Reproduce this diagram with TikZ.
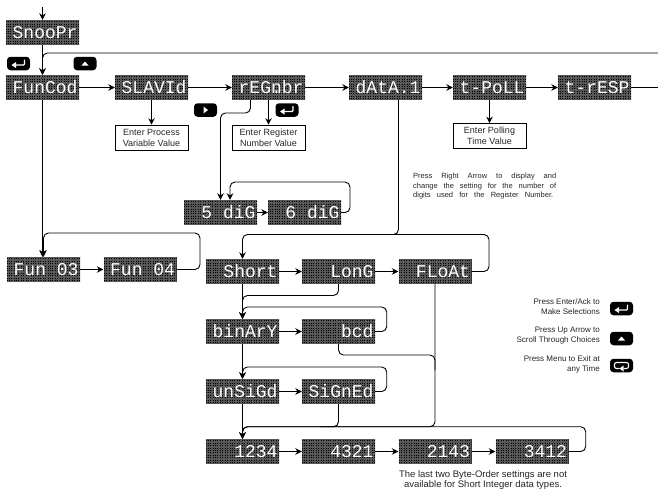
\documentclass[tikz,border=0pt]{standalone}
\usepackage{fontspec}
\setmainfont{Liberation Sans}
\newfontfamily\dispfont{Liberation Mono}
\usetikzlibrary{arrows.meta,calc}
\tikzset{
  x=1pt,y=-1pt,
  disp/.style={fill=black,draw=none,text=white,text width=70pt,align=right,inner xsep=1.5pt,inner ysep=0pt,
    minimum height=25pt,text height=12.5pt,text depth=0pt,font=\dispfont\fontsize{18}{18}\selectfont,
    path picture={\draw[black!66,line width=.28pt,step=1.7pt] (path picture bounding box.south west) grid (path picture bounding box.north east);}},
  conn/.style={draw=black,line width=.9pt,rounded corners=5pt,-{Stealth[length=6.5pt,width=6.5pt]}},
  plain/.style={draw=black,line width=.9pt,rounded corners=5pt},
  infobox/.style={draw=black,line width=.6pt,fill=white,minimum width=73pt,minimum height=25pt,inner sep=0pt,align=center,font=\fontsize{9}{11}\selectfont,text=black!85},
  keypad/.style={fill=black,rounded corners=3.5pt,minimum width=23pt,minimum height=13.5pt,inner sep=0pt},
  glyph/.style={draw=white,line width=1.1pt,fill=none},
  tri/.style={fill=white,draw=none},
  legend/.style={align=right,anchor=east,inner sep=0pt,font=\fontsize{8}{10}\selectfont,text=black!85},
  note/.style={align=center,inner sep=0pt,font=\fontsize{9.5}{10}\selectfont,text=black!85},
  rnote/.style={align=left,anchor=north west,inner sep=0pt,font=\fontsize{7.5}{9.9}\selectfont,text=black!85},
}
\newcommand{\dt}{\rlap{.}}
\newcommand{\gap}{\phantom{0}}
\newcommand{\entglyph}[1]{\draw[glyph,rounded corners=1pt,shift={(#1)}] (6,-4) -- (6,1.5) -- (-3,1.5); \fill[tri,shift={(#1)}] (-7,1.5) -- (-2.5,-1.5) -- (-2.5,4.5) -- cycle;}
\begin{document}
\begin{tikzpicture}
\useasboundingbox (0,0) rectangle (658,491);
\fill[white] (0,0) rectangle (658,491);
\node[disp] (snoop) at (42.5,32.5) {SnooPr};
\node[disp] (fun) at (42.5,87.5) {FunCod};
\node[disp] (slav) at (151.5,87.5) {SLAV\dt Id};
\node[disp] (reg) at (268.5,87.5) {rEG\dt nbr};
\node[disp] (data) at (385.5,87.5) {dAtA\dt\gap 1};
\node[disp] (poll) at (489.5,87.5) {t-PoLL};
\node[disp] (resp) at (594.5,87.5) {t-rESP};
\node[disp] (dfive) at (220.5,212.5) {5\gap diG};
\node[disp] (dsix) at (304.5,212.5) {6\gap diG};
\node[disp] (fthree) at (43.5,269.5) {Fun\gap 03};
\node[disp] (ffour) at (140,269.5) {Fun\gap 04};
\node[disp] (short) at (242.5,271.5) {Short};
\node[disp] (long) at (338.5,271.5) {LonG};
\node[disp] (float) at (435,271.5) {FLoAt};
\node[disp] (bin) at (242.5,331.5) {binArY};
\node[disp] (bcd) at (338.5,331.5) {bcd};
\node[disp] (uns) at (242.5,391.5) {unSiGd};
\node[disp] (sgn) at (338.5,391.5) {SiGnEd};
\node[disp] (oa) at (242.5,451.5) {1234};
\node[disp] (ob) at (338.5,451.5) {4321};
\node[disp] (oc) at (435,451.5) {2143};
\node[disp] (od) at (532,451.5) {3412};
\node[infobox] (bslav) at (151.5,137.5) {Enter Process\\Variable Value};
\node[infobox] (breg) at (268.5,137.5) {Enter Register\\Number Value};
\node[infobox] (bpoll) at (489.5,136) {Enter Polling\\Time Value};
\coordinate (top) at (42.5,7);
\coordinate (edgeA) at (658,53);
\coordinate (edgeB) at (658,87.5);
\draw[conn] (top) -- (snoop.north);
\draw[conn] (snoop.south) -- (fun.north);
\draw[conn] (edgeA) -- (fun.north |- edgeA) -- (fun.north);
\draw[conn] (fun) -- (slav);
\draw[conn] (slav) -- (reg);
\draw[conn] (reg) -- (data);
\draw[conn] (data) -- (poll);
\draw[conn] (poll) -- (resp);
\draw[plain] (resp.east) -- (edgeB);
\draw[conn] (slav.south) -- (bslav.north);
\draw[conn] (reg.south) -- (breg.north);
\draw[conn] (poll.south) -- (bpoll.north);
\draw[conn] (fun.south) -- (fthree.north -| fun.south);
\draw[conn] (fthree) -- (ffour);
\draw[conn] (ffour.east) -- (200,269.5) -- (200,233) -- (43.5,233) -- (fthree.north);
\draw[conn] ([xshift=-18pt]reg.south) -- (250.5,113) -- (220.5,113) -- (dfive.north);
\draw[conn] (dfive) -- (dsix);
\draw[conn] (dsix.east) -- (350,212.5) -- (350,182) -- (230,182) -- ([xshift=9.5pt]dfive.north);
\draw[plain] ([xshift=13pt]data.south) -- (398.5,234.5) -- (380,234.5);
\draw[conn] (float.east) -- (489,271.5) -- (489,234.5) -- (242.5,234.5) -- (short.north);
\draw[conn] (short) -- (long);
\draw[conn] (long) -- (float);
\draw[conn] (short.south) -- (bin.north);
\draw[conn] (long.south) -- (338.5,295.5) -- (242.5,295.5) -- (bin.north);
\draw[conn] (bin) -- (bcd);
\draw[conn] (bcd.east) -- (386.7,331.5) -- (386.7,307) -- (242.5,307) -- (bin.north);
\draw[conn] (bin.south) -- (uns.north);
\draw[conn] (uns) -- (sgn);
\draw[conn] (sgn.east) -- (386.7,391.5) -- (386.7,367) -- (242.5,367) -- (uns.north);
\draw[conn] (uns.south) -- (oa.north);
\draw[plain] (bcd.south) -- (338.5,355) -- (435,355) -- (435,370);
\draw[conn] (float.south) -- (435,426.7) -- (242.5,426.7) -- (oa.north);
\draw[plain] (sgn.south) -- (338.5,426.7) -- (320,426.7);
\draw[conn] (oa) -- (ob);
\draw[conn] (ob) -- (oc);
\draw[conn] (oc) -- (od);
\draw[conn] (od.east) -- (585.7,451.5) -- (585.7,426.7) -- (242.5,426.7) -- (oa.north);
\node[keypad] (kenta) at (18.5,63.5) {};
\entglyph{kenta.center}
\node[keypad] (kupa) at (85,63.5) {};
\fill[tri,shift={(kupa.center)}] (-3.5,2) -- (3.5,2) -- (0,-2) -- cycle;
\node[keypad] (kright) at (205.5,110) {};
\fill[tri,shift={(kright.center)}] (-2,-3.5) -- (-2,3.5) -- (2.5,0) -- cycle;
\node[keypad] (kentb) at (287,110) {};
\entglyph{kentb.center}
\node[keypad] (kentc) at (621.5,308.5) {};
\entglyph{kentc.center}
\node[keypad] (kupc) at (621.5,338.5) {};
\fill[tri,shift={(kupc.center)}] (-3.5,2) -- (3.5,2) -- (0,-2) -- cycle;
\node[keypad] (kmenu) at (621.5,365.5) {};
\draw[glyph,rounded corners=2pt,shift={(kmenu.center)}] (-2,3) -- (-7,3) -- (-7,-3) -- (7,-3) -- (7,3) -- (2,3);
\fill[tri,shift={(kmenu.center)}] (-2,3) -- (2,0) -- (2,6) -- cycle;
\node[legend] (la) at (600,307) {Press Enter/Ack to\\Make Selections};
\node[legend] (lb) at (600,336) {Press Up Arrow to\\Scroll Through Choices};
\node[legend] (lc) at (600,364.5) {Press Menu to Exit at\\any Time};
\node[note] (nb) at (483,480.5) {The last two Byte-Order settings are not\\available for Short Integer data types.};
\node[rnote] (nr) at (413,172.5) {\makebox[143pt][s]{Press Right Arrow to display and}\\\makebox[143pt][s]{change the setting for the number of}\\\makebox[140pt][s]{digits used for the Register Number.}};
\end{tikzpicture}
\end{document}
